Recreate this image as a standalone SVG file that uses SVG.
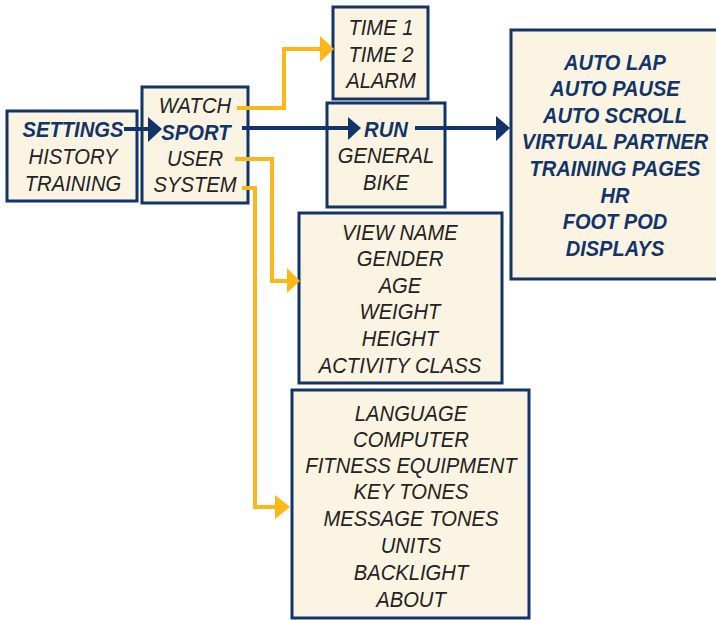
<svg xmlns="http://www.w3.org/2000/svg" width="716" height="620" viewBox="0 0 716 620">
<defs>
<style>
.box{fill:#fcf4e3;stroke:#123468;stroke-width:3}
.t{font-family:"Liberation Sans",Arial,sans-serif;font-size:22px;font-style:italic;fill:#222;text-anchor:middle}
.b{font-weight:bold;fill:#123468}
.nv{fill:none;stroke:#123468;stroke-width:4}
.or{fill:none;stroke:#fdb71b;stroke-width:4}
</style>
</defs>
<rect width="716" height="620" fill="#ffffff"/>
<g id="settings">
<rect class="box" x="7" y="111" width="130" height="90"/>
<g transform="matrix(0.92,0,0,1,5.84,0)">
<text class="t b" x="73" y="137">SETTINGS</text>
<text class="t" x="73" y="164">HISTORY</text>
<text class="t" x="73" y="191">TRAINING</text>
</g>
</g>
<g id="watch">
<rect class="box" x="142" y="87" width="106" height="116"/>
<g transform="matrix(0.92,0,0,1,15.6,0)">
<text class="t" x="195" y="113">WATCH</text>
<text class="t b" x="196" y="140">SPORT</text>
<text class="t" x="195" y="166">USER</text>
<text class="t" x="195" y="192">SYSTEM</text>
</g>
</g>
<g id="time">
<rect class="box" x="333" y="7" width="95" height="92"/>
<g transform="matrix(0.92,0,0,1,30.48,0)">
<text class="t" x="381" y="35">TIME 1</text>
<text class="t" x="381" y="62">TIME 2</text>
<text class="t" x="381" y="88">ALARM</text>
</g>
</g>
<g id="run">
<rect class="box" x="327" y="103" width="118" height="104"/>
<g transform="matrix(0.92,0,0,1,30.88,0)">
<text class="t b" x="386" y="137">RUN</text>
<text class="t" x="386" y="163">GENERAL</text>
<text class="t" x="386" y="190">BIKE</text>
</g>
</g>
<g id="runopts">
<rect class="box" x="511" y="30" width="210" height="249"/>
<g transform="matrix(0.91,0,0,1,55.35,0)">
<text class="t b" x="615" y="70">AUTO LAP</text>
<text class="t b" x="615" y="96">AUTO PAUSE</text>
<text class="t b" x="615" y="123">AUTO SCROLL</text>
<text class="t b" x="615" y="149">VIRTUAL PARTNER</text>
<text class="t b" x="615" y="176">TRAINING PAGES</text>
<text class="t b" x="615" y="203">HR</text>
<text class="t b" x="615" y="229">FOOT POD</text>
<text class="t b" x="615" y="256">DISPLAYS</text>
</g>
</g>
<g id="user">
<rect class="box" x="299" y="213" width="203" height="170"/>
<g transform="matrix(0.92,0,0,1,32,0)">
<text class="t" x="400" y="240">VIEW NAME</text>
<text class="t" x="400" y="266">GENDER</text>
<text class="t" x="400" y="293">AGE</text>
<text class="t" x="400" y="319">WEIGHT</text>
<text class="t" x="400" y="346">HEIGHT</text>
<text class="t" x="400" y="373">ACTIVITY CLASS</text>
</g>
</g>
<g id="system">
<rect class="box" x="292" y="390" width="237" height="228"/>
<g transform="matrix(0.92,0,0,1,32.88,0)">
<text class="t" x="411" y="421">LANGUAGE</text>
<text class="t" x="411" y="447">COMPUTER</text>
<text class="t" x="411" y="473">FITNESS EQUIPMENT</text>
<text class="t" x="411" y="499">KEY TONES</text>
<text class="t" x="411" y="526">MESSAGE TONES</text>
<text class="t" x="411" y="553">UNITS</text>
<text class="t" x="411" y="580">BACKLIGHT</text>
<text class="t" x="411" y="607">ABOUT</text>
</g>
</g>
<g id="connectors">
<path class="nv" d="M124 129 H149"/>
<polygon fill="#123468" points="148,117 162,129 148,142"/>
<path class="nv" d="M242 128 H349"/>
<polygon fill="#123468" points="348,117 361,128 348,140"/>
<path class="nv" d="M415 128 H497"/>
<polygon fill="#123468" points="496,116 510,128 496,141"/>
<path class="or" d="M237 108 H284 V49 H321"/>
<polygon fill="#fdb71b" points="320,36 334,49 320,62"/>
<path class="or" d="M235 159 H272 V281 H288"/>
<polygon fill="#fdb71b" points="287,268 300,281 287,293"/>
<path class="or" d="M242 188 H255 V507 H276"/>
<polygon fill="#fdb71b" points="275,495 290,507 275,519"/>
</g>
</svg>
